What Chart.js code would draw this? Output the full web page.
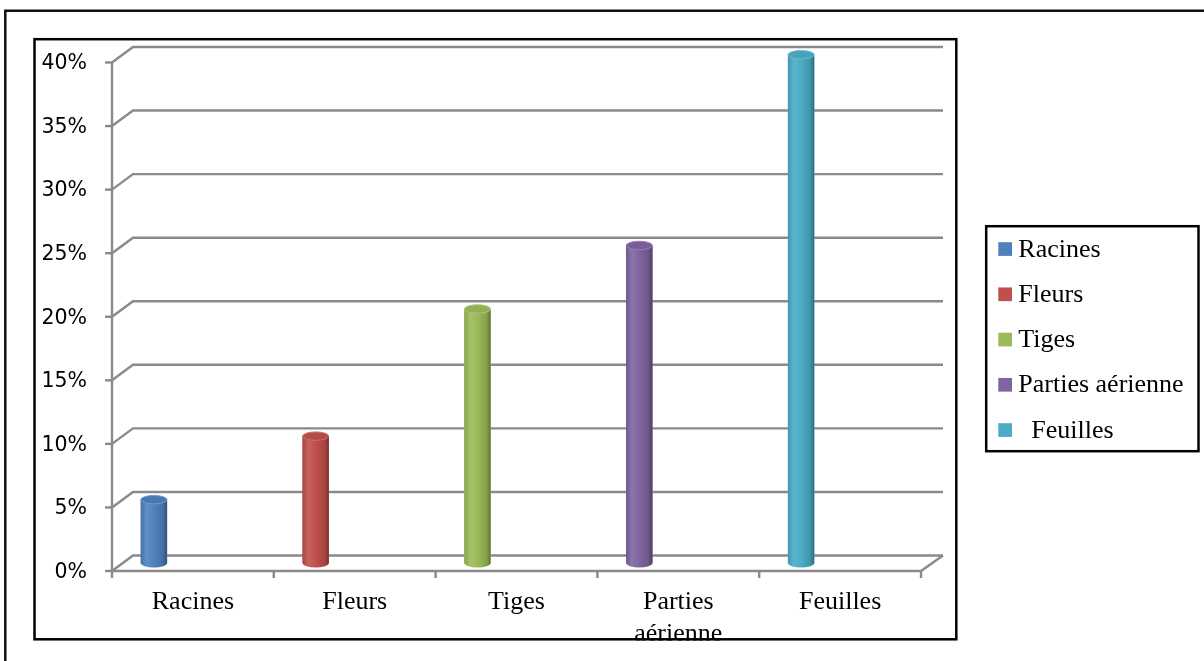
<!DOCTYPE html>
<html>
<head>
<meta charset="utf-8">
<title>Répartition des parties utilisées</title>
<script src="https://cdn.jsdelivr.net/npm/chart.js@4"></script>
<style>
  html, body { margin: 0; padding: 0; background: #ffffff; }
  #wrap { width: 1204px; height: 661px; position: relative; }
  canvas { display: block; }
</style>
</head>
<body>
<div id="wrap"><canvas id="chart" width="1204" height="661"></canvas></div>
<script>
// Data
const categories   = ['Racines', 'Fleurs', 'Tiges', ['Parties', 'aérienne'], 'Feuilles'];
const legendLabels = ['Racines', 'Fleurs', 'Tiges', 'Parties aérienne', '  Feuilles'];
const shares       = [0.05, 0.10, 0.20, 0.25, 0.40];
const yTickValues  = [0, 0.05, 0.10, 0.15, 0.20, 0.25, 0.30, 0.35, 0.40];

// Styling
const colors    = ['#4F81BD', '#C0504D', '#9BBB59', '#8064A2', '#4BACC6'];
const gridColor = '#8a8a8a';
const wallDepth = { dx: 21, dy: -15.5 };   // back wall offset of the 3D frame
const barDepth  = { dx: -39, dy: -7.75 };  // where the cylinders stand on the floor
const capRy     = 4.2;                     // vertical radius of the cylinder ends

function shade(hex, amt) {
  const n = parseInt(hex.slice(1), 16);
  let r = (n >> 16) & 255, g = (n >> 8) & 255, b = n & 255;
  const t = amt < 0 ? 0 : 255, p = Math.abs(amt);
  r = Math.round(r + (t - r) * p);
  g = Math.round(g + (t - g) * p);
  b = Math.round(b + (t - b) * p);
  return `rgb(${r},${g},${b})`;
}

// 3D frame: slanted grid lines, back wall, floor and axis lines
const framePlugin = {
  id: 'frame3d',
  beforeDraw(chart) {
    const ctx = chart.ctx;
    ctx.save();
    ctx.fillStyle = '#ffffff';
    ctx.fillRect(0, 0, chart.width, chart.height);
    ctx.restore();
  },
  beforeDatasetsDraw(chart) {
    const ctx = chart.ctx;
    const { left, right, bottom } = chart.chartArea;
    const ys = chart.scales.y, xs = chart.scales.x;
    ctx.save();
    ctx.strokeStyle = gridColor;
    ctx.lineWidth = 2.4;
    ctx.lineCap = 'butt';
    yTickValues.forEach(v => {
      const yf = ys.getPixelForValue(v);
      ctx.beginPath();
      ctx.moveTo(left, yf);
      ctx.lineTo(left + wallDepth.dx, yf + wallDepth.dy);
      ctx.lineTo(right + wallDepth.dx + 1, yf + wallDepth.dy);
      ctx.stroke();
      ctx.beginPath();
      ctx.moveTo(left - 7, yf);
      ctx.lineTo(left, yf);
      ctx.stroke();
    });
    // front vertical axis
    ctx.beginPath();
    ctx.moveTo(left, ys.getPixelForValue(yTickValues[yTickValues.length - 1]));
    ctx.lineTo(left, bottom);
    ctx.stroke();
    // front and right edges of the floor
    ctx.beginPath();
    ctx.moveTo(left, bottom);
    ctx.lineTo(right, bottom);
    ctx.lineTo(right + wallDepth.dx + 1, bottom + wallDepth.dy);
    ctx.stroke();
    // category boundary ticks
    for (let i = 0; i <= categories.length; i++) {
      const xx = xs.getPixelForValue(i - 0.5);
      ctx.beginPath();
      ctx.moveTo(xx, bottom);
      ctx.lineTo(xx, bottom + 7);
      ctx.stroke();
    }
    ctx.restore();
    // cylinders stand in the middle of the floor depth
    ctx.save();
    ctx.translate(barDepth.dx, barDepth.dy);
  },
  afterDatasetsDraw(chart) {
    const ctx = chart.ctx;
    const meta = chart.getDatasetMeta(0);
    meta.data.forEach((el, i) => {
      const { x, y, base, width } = el.getProps(['x', 'y', 'base', 'width'], true);
      const rx = width / 2;
      const c = colors[i];
      const g = ctx.createLinearGradient(x - rx, 0, x + rx, 0);
      g.addColorStop(0, shade(c, -0.12));
      g.addColorStop(0.22, shade(c, 0.10));
      g.addColorStop(0.5, c);
      g.addColorStop(0.85, shade(c, -0.14));
      g.addColorStop(1, shade(c, -0.38));
      // body with rounded bottom
      ctx.beginPath();
      ctx.moveTo(x - rx, y);
      ctx.lineTo(x - rx, base);
      ctx.ellipse(x, base, rx, capRy, 0, Math.PI, 0, true);
      ctx.lineTo(x + rx, y);
      ctx.closePath();
      ctx.fillStyle = g;
      ctx.fill();
      // top cap
      ctx.beginPath();
      ctx.ellipse(x, y, rx, capRy, 0, 0, Math.PI * 2);
      ctx.fillStyle = shade(c, -0.06);
      ctx.fill();
      ctx.lineWidth = 1;
      ctx.strokeStyle = shade(c, 0.18);
      ctx.stroke();
    });
    ctx.restore();
  },
  afterDraw(chart) {
    const ctx = chart.ctx;
    ctx.save();
    // text below the inner frame is hidden
    ctx.fillStyle = '#ffffff';
    ctx.fillRect(36, 640.6, 920, 21);
    // inner frame
    ctx.strokeStyle = '#000000';
    ctx.lineWidth = 2.5;
    ctx.strokeRect(34.5, 39.2, 921.8, 600.1);
    // outer frame (top and left edges)
    ctx.strokeStyle = '#111111';
    ctx.beginPath();
    ctx.moveTo(1204, 10.8);
    ctx.lineTo(5.3, 10.8);
    ctx.lineTo(5.3, 661);
    ctx.stroke();
    // legend
    ctx.strokeStyle = '#000000';
    ctx.lineWidth = 2.5;
    ctx.strokeRect(986.2, 226.2, 212.3, 225);
    ctx.font = '26px "Liberation Serif", "Times New Roman", serif';
    ctx.textBaseline = 'alphabetic';
    ctx.textAlign = 'left';
    legendLabels.forEach((lab, i) => {
      const cy = 249 + i * 45.25;
      ctx.fillStyle = colors[i];
      ctx.fillRect(998.3, cy - 6.8, 13.7, 13.7);
      ctx.fillStyle = '#000000';
      ctx.fillText(lab, 1018.3, cy + 7.6);
    });
    ctx.restore();
  }
};

new Chart(document.getElementById('chart'), {
  type: 'bar',
  data: {
    labels: categories,
    datasets: [{
      label: 'Parties',
      data: shares,
      backgroundColor: colors,
      borderWidth: 0,
      barThickness: 26,
      clip: false
    }]
  },
  options: {
    responsive: false,
    animation: false,
    devicePixelRatio: 1,
    layout: { padding: { left: 34, right: 283, top: 62.5, bottom: 0 } },
    plugins: {
      legend: { display: false },
      tooltip: { enabled: false },
      title: { display: false }
    },
    scales: {
      x: {
        type: 'category',
        offset: true,
        grid: { display: false, drawTicks: false },
        border: { display: false },
        ticks: {
          color: '#000000',
          padding: 16,
          maxRotation: 0,
          autoSkip: false,
          font: { family: '"Liberation Serif", "Times New Roman", serif', size: 26, lineHeight: 1.2 }
        },
        afterFit(scale) { scale.height = 90; }
      },
      y: {
        min: 0,
        max: 0.4,
        grid: { display: false, drawTicks: false },
        border: { display: false },
        afterBuildTicks(scale) { scale.ticks = yTickValues.map(v => ({ value: v })); },
        ticks: {
          color: '#000000',
          padding: 25,
          labelOffset: 1.5,
          font: { family: '"DejaVu Sans", Verdana, sans-serif', size: 20.5 },
          callback: v => Math.round(v * 100) + '%'
        },
        afterFit(scale) { scale.width = 78; }
      }
    }
  },
  plugins: [framePlugin]
});
</script>
</body>
</html>
